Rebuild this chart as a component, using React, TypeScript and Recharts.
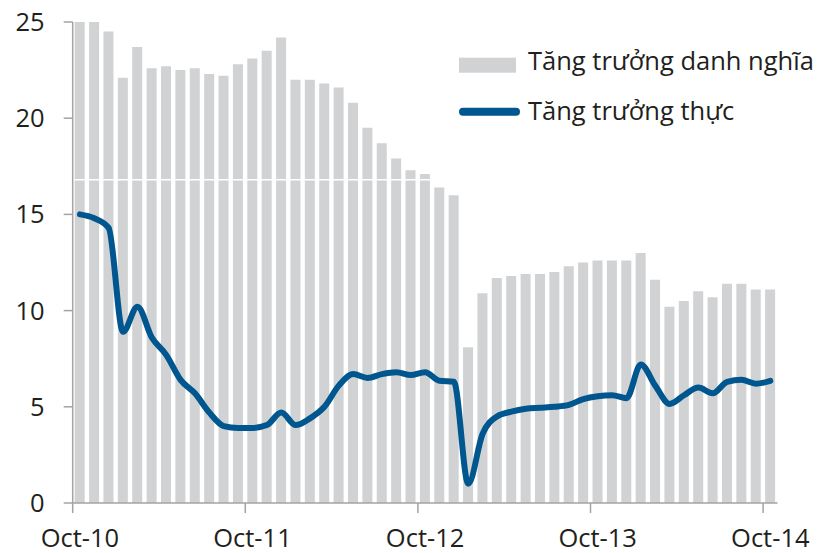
import React from 'react'
import {
  ComposedChart,
  Bar,
  Line,
  XAxis,
  YAxis,
  Legend,
  ReferenceLine,
} from 'recharts'

const months = [
  'Oct-10', 'Nov-10', 'Dec-10', 'Jan-11', 'Feb-11', 'Mar-11', 'Apr-11', 'May-11', 'Jun-11', 'Jul-11', 'Aug-11', 'Sep-11',
  'Oct-11', 'Nov-11', 'Dec-11', 'Jan-12', 'Feb-12', 'Mar-12', 'Apr-12', 'May-12', 'Jun-12', 'Jul-12', 'Aug-12', 'Sep-12',
  'Oct-12', 'Nov-12', 'Dec-12', 'Jan-13', 'Feb-13', 'Mar-13', 'Apr-13', 'May-13', 'Jun-13', 'Jul-13', 'Aug-13', 'Sep-13',
  'Oct-13', 'Nov-13', 'Dec-13', 'Jan-14', 'Feb-14', 'Mar-14', 'Apr-14', 'May-14', 'Jun-14', 'Jul-14', 'Aug-14', 'Sep-14',
  'Oct-14',
]

// nominal growth (bars)
const nominal = [
  25.0, 25.0, 24.5, 22.1, 23.7, 22.6, 22.7, 22.5, 22.6, 22.3, 22.2, 22.8,
  23.1, 23.5, 24.2, 22.0, 22.0, 21.8, 21.6, 20.8, 19.5, 18.7, 17.9, 17.3,
  17.1, 16.4, 16.0, 8.1, 10.9, 11.7, 11.8, 11.9, 11.9, 12.0, 12.3, 12.5,
  12.6, 12.6, 12.6, 13.0, 11.6, 10.2, 10.5, 11.0, 10.7, 11.4, 11.4, 11.1,
  11.1,
]

// real growth (line)
const real = [
  15.0, 14.8, 14.3, 8.9, 10.2, 8.6, 7.7, 6.4, 5.7, 4.7, 4.0, 3.9,
  3.9, 4.05, 4.7, 4.05, 4.4, 5.0, 6.1, 6.7, 6.5, 6.7, 6.8, 6.65,
  6.8, 6.35, 6.3, 1.0, 3.6, 4.5, 4.75, 4.9, 4.95, 5.0, 5.1, 5.4,
  5.55, 5.6, 5.45, 7.2, 6.1, 5.15, 5.6, 6.0, 5.7, 6.3, 6.4, 6.2,
  6.35,
]

const xTicks = ['Oct-10', 'Oct-11', 'Oct-12', 'Oct-13', 'Oct-14']
const yTicks = [0, 5, 10, 15, 20, 25]

const data = months.map((m, i) => ({ month: m, nominal: nominal[i], real: real[i] }))

const FONT = '"Open Sans", sans-serif'
const TEXT = '#231f20'
const AXIS = '#a3a3a3'
const GREY = '#d1d2d4'
const BLUE = '#00568f'
const FS = 25.5

const XTick = (props: any) => {
  const { x, y, payload } = props
  const half = 7.2
  return (
    <g>
      <line x1={x - half} x2={x - half} y1={y - 10} y2={y} stroke={AXIS} strokeWidth={1.5} />
      <text x={x} y={y + 34} textAnchor="middle" fontSize={FS} fontFamily={FONT} fill={TEXT}>
        {payload.value}
      </text>
    </g>
  )
}

const LegendBox = () => (
  <svg width={361} height={90} style={{ overflow: 'visible', display: 'block' }}>
    <rect x={0} y={9.7} width={57} height={15} fill={GREY} />
    <text x={69} y={22} fontSize={FS} fontFamily={FONT} fill={TEXT}>
      Tăng trưởng danh nghĩa
    </text>
    <line x1={4} x2={57} y1={63.7} y2={63.7} stroke={BLUE} strokeWidth={8} strokeLinecap="round" />
    <text x={69} y={72} fontSize={FS} fontFamily={FONT} fill={TEXT}>
      Tăng trưởng thực
    </text>
  </svg>
)

export default function App() {
  return (
    <div style={{ width: 820, height: 553, background: '#fff' }}>
      <style>{'body{margin:0}'}</style>
      <ComposedChart
        width={820}
        height={553}
        data={data}
        margin={{ top: 22, right: 42.5, bottom: 0, left: 0 }}
      >
        <XAxis
          dataKey="month"
          ticks={xTicks}
          interval={0}
          height={50}
          tickSize={10}
          tickMargin={0}
          tickLine={false}
          axisLine={{ stroke: AXIS, strokeWidth: 1.5 }}
          tick={<XTick />}
        />
        <YAxis
          domain={[0, 25]}
          ticks={yTicks}
          width={72.7}
          tickSize={9}
          tickMargin={19}
          axisLine={{ stroke: AXIS, strokeWidth: 1.5 }}
          tickLine={{ stroke: AXIS, strokeWidth: 1.5 }}
          tick={{ fontSize: FS, fontFamily: FONT, fill: TEXT }}
        />
        <Bar dataKey="nominal" fill={GREY} barSize={10} isAnimationActive={false} />
        <ReferenceLine y={16.8} stroke="#ffffff" strokeWidth={1.5} />
        <Line
          type="monotone"
          dataKey="real"
          stroke={BLUE}
          strokeWidth={6}
          strokeLinecap="round"
          strokeLinejoin="round"
          dot={false}
          isAnimationActive={false}
        />
        <Legend
          layout="horizontal"
          verticalAlign="middle"
          align="center"
          content={<LegendBox />}
          wrapperStyle={{ position: 'absolute', left: 459, top: 48, width: 361, height: 90 }}
        />
      </ComposedChart>
    </div>
  )
}
